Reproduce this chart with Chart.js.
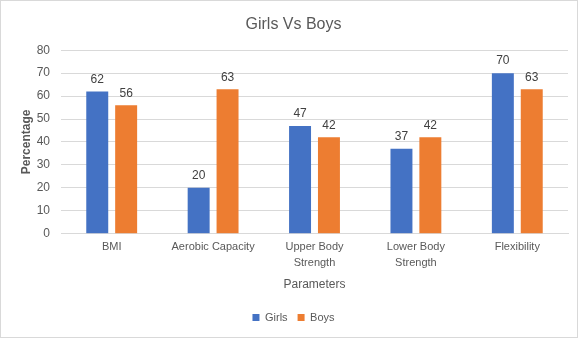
<!DOCTYPE html>
<html><head><meta charset="utf-8">
<script src="https://cdn.jsdelivr.net/npm/chart.js@4/dist/chart.umd.min.js"></script>
<style>
html,body{margin:0;padding:0;background:#fff;}
#wrap{position:absolute;left:0;top:0;width:576px;height:336px;border:1px solid #d9d9d9;}
canvas{display:block;}
</style></head>
<body><div id="wrap"><canvas id="c" width="576" height="336"></canvas></div>
<script>
const categories = [["BMI"], ["Aerobic Capacity"], ["Upper Body", "Strength"], ["Lower Body", "Strength"], ["Flexibility"]];
const girls = [62, 20, 47, 37, 70];
const boys = [56, 63, 42, 42, 63];
const yTicks = [0, 10, 20, 30, 40, 50, 60, 70, 80];

const valueLabels = {
  id: 'valueLabels',
  afterDatasetsDraw(chart) {
    const ctx = chart.ctx;
    ctx.save();
    ctx.font = '12px "Liberation Sans", Arial, sans-serif';
    ctx.fillStyle = '#404040';
    ctx.textAlign = 'center';
    ctx.textBaseline = 'bottom';
    chart.data.datasets.forEach((ds, i) => {
      chart.getDatasetMeta(i).data.forEach((bar, j) => {
        ctx.fillText(ds.data[j], bar.x, bar.y - 6);
      });
    });
    ctx.restore();
  }
};

Chart.defaults.font.family = '"Liberation Sans", Arial, sans-serif';
Chart.defaults.color = '#595959';

new Chart(document.getElementById('c'), {
  type: 'bar',
  data: {
    labels: categories,
    datasets: [
      { label: 'Girls', data: girls, backgroundColor: '#4472c4' },
      { label: 'Boys', data: boys, backgroundColor: '#ed7d31' }
    ]
  },
  options: {
    responsive: false,
    animation: false,
    layout: { padding: { left: 18, right: 9, top: 4, bottom: 4 } },
    datasets: { bar: { categoryPercentage: 0.57, barPercentage: 0.76 } },
    plugins: {
      title: { display: true, text: 'Girls Vs Boys', color: '#595959',
        font: { size: 16, weight: 'normal' }, padding: { top: 10, bottom: 16 } },
      legend: { position: 'bottom', labels: { boxWidth: 7, boxHeight: 7, font: { size: 11 }, padding: 10 } },
      tooltip: { enabled: false }
    },
    scales: {
      x: {
        grid: { display: false, drawTicks: false },
        border: { color: '#d9d9d9' },
        ticks: { font: { size: 11, lineHeight: 1.45 }, maxRotation: 0, padding: 5 },
        title: { display: true, text: 'Parameters', font: { size: 12 }, padding: { top: 2, bottom: 10 } }
      },
      y: {
        min: 0, max: 80,
        afterBuildTicks(axis) { axis.ticks = yTicks.map(v => ({ value: v })); },
        afterFit(axis) { axis.width = 42; },
        grid: { color: '#d9d9d9', drawTicks: false },
        border: { display: false },
        ticks: { font: { size: 12 }, padding: 11 },
        title: { display: true, text: 'Percentage', font: { size: 12, weight: 'bold' }, padding: { top: 0, bottom: 0 } }
      }
    }
  },
  plugins: [valueLabels]
});
</script></body></html>
